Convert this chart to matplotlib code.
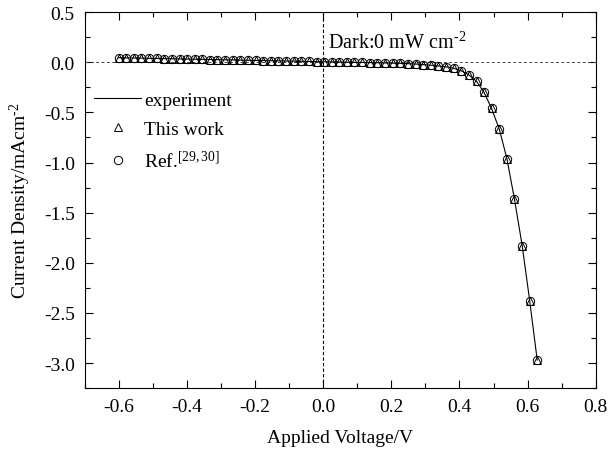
import matplotlib
matplotlib.use('Agg')
import matplotlib.pyplot as plt
from matplotlib.ticker import MultipleLocator

plt.rcParams['font.family'] = ['Liberation Serif', 'DejaVu Serif']
plt.rcParams['mathtext.fontset'] = 'custom'
plt.rcParams['mathtext.rm'] = 'Liberation Serif'
plt.rcParams['mathtext.it'] = 'Liberation Serif:italic'
plt.rcParams['axes.unicode_minus'] = False

# Datos
voltaje = [-0.600, -0.578, -0.555, -0.533, -0.511, -0.488, -0.466, -0.444, -0.421, -0.399,
           -0.377, -0.354, -0.332, -0.310, -0.287, -0.265, -0.243, -0.220, -0.198, -0.176,
           -0.153, -0.131, -0.109, -0.086, -0.064, -0.042, -0.019, 0.003, 0.025, 0.048,
           0.070, 0.092, 0.115, 0.137, 0.159, 0.182, 0.204, 0.226, 0.249, 0.271,
           0.293, 0.316, 0.338, 0.360, 0.383, 0.405, 0.427, 0.450, 0.472, 0.494,
           0.517, 0.539, 0.561, 0.584, 0.606, 0.628]

j_experimento = [0.045, 0.044, 0.042, 0.041, 0.039, 0.038, 0.036, 0.035, 0.033, 0.032,
                 0.030, 0.029, 0.027, 0.026, 0.024, 0.023, 0.021, 0.020, 0.018, 0.017,
                 0.015, 0.014, 0.012, 0.011, 0.009, 0.008, 0.006, 0.005, 0.003, 0.002,
                 0.000, -0.001, -0.002, -0.004, -0.005, -0.007, -0.009, -0.011, -0.014, -0.018,
                 -0.023, -0.030, -0.037, -0.046, -0.060, -0.085, -0.125, -0.190, -0.300, -0.460,
                 -0.670, -0.960, -1.360, -1.830, -2.380, -2.970]

j_este_trabajo = [0.045, 0.044, 0.042, 0.041, 0.039, 0.038, 0.036, 0.035, 0.033, 0.032,
                  0.030, 0.029, 0.027, 0.026, 0.024, 0.023, 0.021, 0.020, 0.018, 0.017,
                  0.015, 0.014, 0.012, 0.011, 0.009, 0.008, 0.006, 0.005, 0.003, 0.002,
                  0.000, -0.001, -0.002, -0.004, -0.005, -0.007, -0.009, -0.011, -0.014, -0.018,
                  -0.023, -0.030, -0.037, -0.046, -0.060, -0.085, -0.125, -0.190, -0.300, -0.460,
                  -0.670, -0.960, -1.360, -1.830, -2.380, -2.970]

j_ref = [0.045, 0.044, 0.042, 0.041, 0.039, 0.038, 0.036, 0.035, 0.033, 0.032,
         0.030, 0.029, 0.027, 0.026, 0.024, 0.023, 0.021, 0.020, 0.018, 0.017,
         0.015, 0.014, 0.012, 0.011, 0.009, 0.008, 0.006, 0.005, 0.003, 0.002,
         0.000, -0.001, -0.002, -0.004, -0.005, -0.007, -0.009, -0.011, -0.014, -0.018,
         -0.023, -0.030, -0.037, -0.046, -0.060, -0.085, -0.125, -0.190, -0.300, -0.460,
         -0.670, -0.960, -1.360, -1.830, -2.380, -2.970]

fig = plt.figure(figsize=(6.08, 4.52), dpi=100)
ax = fig.add_axes([0.139, 0.139, 0.841, 0.832])

ax.axhline(0, color='#444444', linestyle='--', linewidth=0.7, dashes=(3, 2.5))
ax.axvline(0, color='black', linestyle='--', linewidth=0.8, dashes=(3, 2))

ax.plot(voltaje, j_experimento, color='black', linewidth=0.8, label='experiment')
ax.plot(voltaje, j_este_trabajo, linestyle='none', marker='^', markersize=6,
        markerfacecolor='none', markeredgecolor='black', markeredgewidth=0.7, label='This work')
ax.plot(voltaje, j_ref, linestyle='none', marker='o', markersize=6,
        markerfacecolor='none', markeredgecolor='black', markeredgewidth=0.7,
        label='Ref.$^{[29,30]}$')

ax.set_xlim(-0.7, 0.8)
ax.set_ylim(-3.25, 0.5)
ax.xaxis.set_minor_locator(MultipleLocator(0.1))
ax.yaxis.set_major_locator(MultipleLocator(0.5))
ax.yaxis.set_minor_locator(MultipleLocator(0.25))
ax.set_xticks([-0.6, -0.4, -0.2, 0.0, 0.2, 0.4, 0.6, 0.8])
ax.set_xticklabels(['-0.6', '-0.4', '-0.2', '0.0', '0.2', '0.4', '0.6', '0.8'])
ax.tick_params(which='both', direction='in', top=True, right=True, labelsize=14, width=0.8)
ax.tick_params(which='major', length=6, pad=7)
ax.tick_params(which='minor', length=3.5)
for s in ax.spines.values():
    s.set_linewidth(0.8)

ax.set_xlabel('Applied Voltage/V', fontsize=14, labelpad=10)
ax.set_ylabel('Current Density/mAcm$^{\\text{-}2}$', fontsize=14, labelpad=8)

ax.text(0.015, 0.2, 'Dark:0 mW cm$^{\\text{-}2}$', fontsize=14.5, va='center', ha='left')

ax.legend(loc='upper left', bbox_to_anchor=(0.0, 0.815), frameon=False, fontsize=14,
          handlelength=2.4, labelspacing=0.6, handletextpad=0.15, numpoints=1,
          borderaxespad=0.2, borderpad=0.3)

fig.savefig('out.png', dpi=100)
